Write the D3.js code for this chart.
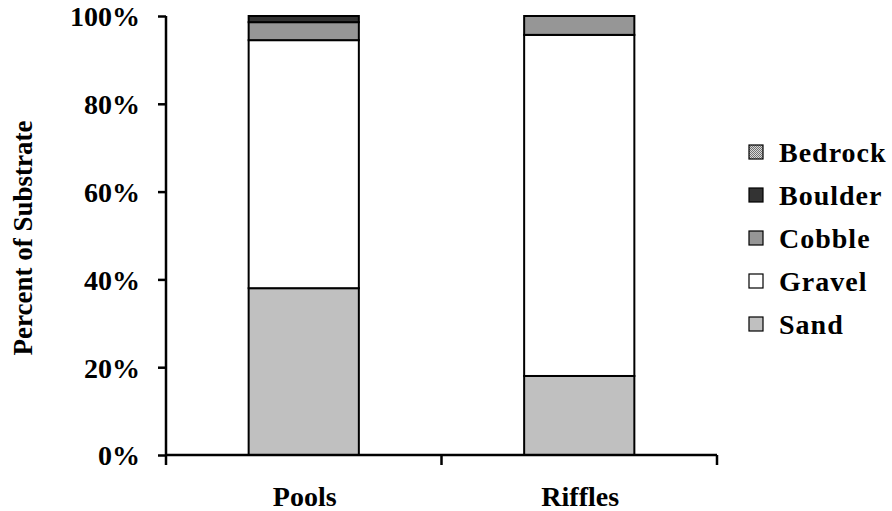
<!DOCTYPE html>
<html>
<head>
<meta charset="utf-8">
<script src="https://cdn.jsdelivr.net/npm/d3@7"></script>
<style>
  html, body { margin: 0; padding: 0; background: #fff; }
  svg { display: block; }
  svg text { font-family: "Liberation Serif", "Times New Roman", Times, serif !important; font-weight: bold; fill: #000; }
</style>
</head>
<body>
<svg id="chart" width="892" height="511" font-family="Liberation Serif, serif"></svg>
<script>
// Substrate composition by habitat type (fractions of total)
const categories = ["Pools", "Riffles"];
const substrates = ["Sand", "Gravel", "Cobble", "Boulder", "Bedrock"];
const sand    = [0.380, 0.180];
const gravel  = [0.565, 0.777];
const cobble  = [0.041, 0.043];
const boulder = [0.014, 0.000];
const bedrock = [0.000, 0.000];
const yTicks = [0, 0.2, 0.4, 0.6, 0.8, 1.0];

const seriesValues = { Sand: sand, Gravel: gravel, Cobble: cobble, Boulder: boulder, Bedrock: bedrock };
const fills = { Sand: "#c0c0c0", Gravel: "#ffffff", Cobble: "#969696", Boulder: "#333333", Bedrock: "url(#bedrockPattern)" };

const rows = categories.map((c, i) => {
  const r = { category: c };
  substrates.forEach(s => r[s] = seriesValues[s][i]);
  return r;
});

const svg = d3.select("#chart");

// fine stipple used for bedrock
const pat = svg.append("defs").append("pattern")
  .attr("id", "bedrockPattern").attr("patternUnits", "userSpaceOnUse")
  .attr("width", 2).attr("height", 2);
pat.append("rect").attr("width", 2).attr("height", 2).attr("fill", "#d8d8d8");
pat.append("rect").attr("width", 1).attr("height", 1).attr("fill", "#707070");
pat.append("rect").attr("x", 1).attr("y", 1).attr("width", 1).attr("height", 1).attr("fill", "#707070");

const x = d3.scaleBand().domain(categories).range([166, 717]).paddingInner(0).paddingOuter(0);
const y = d3.scaleLinear().domain([0, 1]).range([455, 16]);
const barW = x.bandwidth() * 0.4;

const stacked = d3.stack().keys(substrates)(rows);

const g = svg.append("g");
stacked.forEach(layer => {
  g.selectAll(null).data(layer).enter().append("rect")
    .filter(d => d[1] - d[0] > 0)
    .attr("x", d => x(d.data.category) + (x.bandwidth() - barW) / 2)
    .attr("width", barW)
    .attr("y", d => y(d[1]))
    .attr("height", d => y(d[0]) - y(d[1]))
    .attr("fill", fills[layer.key])
    .attr("stroke", "#000")
    .attr("stroke-width", 2);
});

// y axis
const yAxis = svg.append("g").attr("transform", "translate(166,0)")
  .call(d3.axisLeft(y).tickValues(yTicks).tickFormat(d3.format(".0%")).tickSize(8).tickPadding(18));
yAxis.attr("font-family", null).attr("font-size", null);
yAxis.select(".domain").attr("stroke", "#000").attr("stroke-width", 2.5).attr("d", `M0,${y(1)}V${y(0)}`);
yAxis.selectAll(".tick line").attr("stroke", "#000").attr("stroke-width", 2.5);
yAxis.selectAll(".tick text").style("font-size", "28px").attr("dy", "0.35em");

// x axis with ticks at the category boundaries
const xEdges = categories.map(c => x(c)).concat([x.range()[1]]);
svg.append("line").attr("x1", x.range()[0]).attr("x2", x.range()[1])
  .attr("y1", y(0)).attr("y2", y(0)).attr("stroke", "#000").attr("stroke-width", 2.5);
svg.selectAll(".xtick").data(xEdges).enter().append("line")
  .attr("x1", d => d).attr("x2", d => d).attr("y1", y(0)).attr("y2", y(0) + 10)
  .attr("stroke", "#000").attr("stroke-width", 2.5);
svg.selectAll(".xlab").data(categories).enter().append("text")
  .attr("x", d => x(d) + x.bandwidth() / 2 + 1).attr("y", 506)
  .attr("text-anchor", "middle").style("font-size", "28px")
  .text(d => d);

// y axis title
svg.append("text").attr("transform", "translate(32,238) rotate(-90)")
  .attr("text-anchor", "middle").style("font-size", "27px")
  .text("Percent of Substrate");

// legend, topmost series first
const legend = svg.append("g");
const legendRows = substrates.slice().reverse();
legendRows.forEach((s, i) => {
  const cy = 152 + i * 43;
  legend.append("rect").attr("x", 749).attr("y", cy - 7).attr("width", 14).attr("height", 14)
    .attr("fill", fills[s]).attr("stroke", "#000").attr("stroke-width", 1.2);
  legend.append("text").attr("x", 779).attr("y", cy).attr("dy", "0.35em")
    .style("font-size", "28px").style("letter-spacing", "1px").text(s);
});
</script>
</body>
</html>
